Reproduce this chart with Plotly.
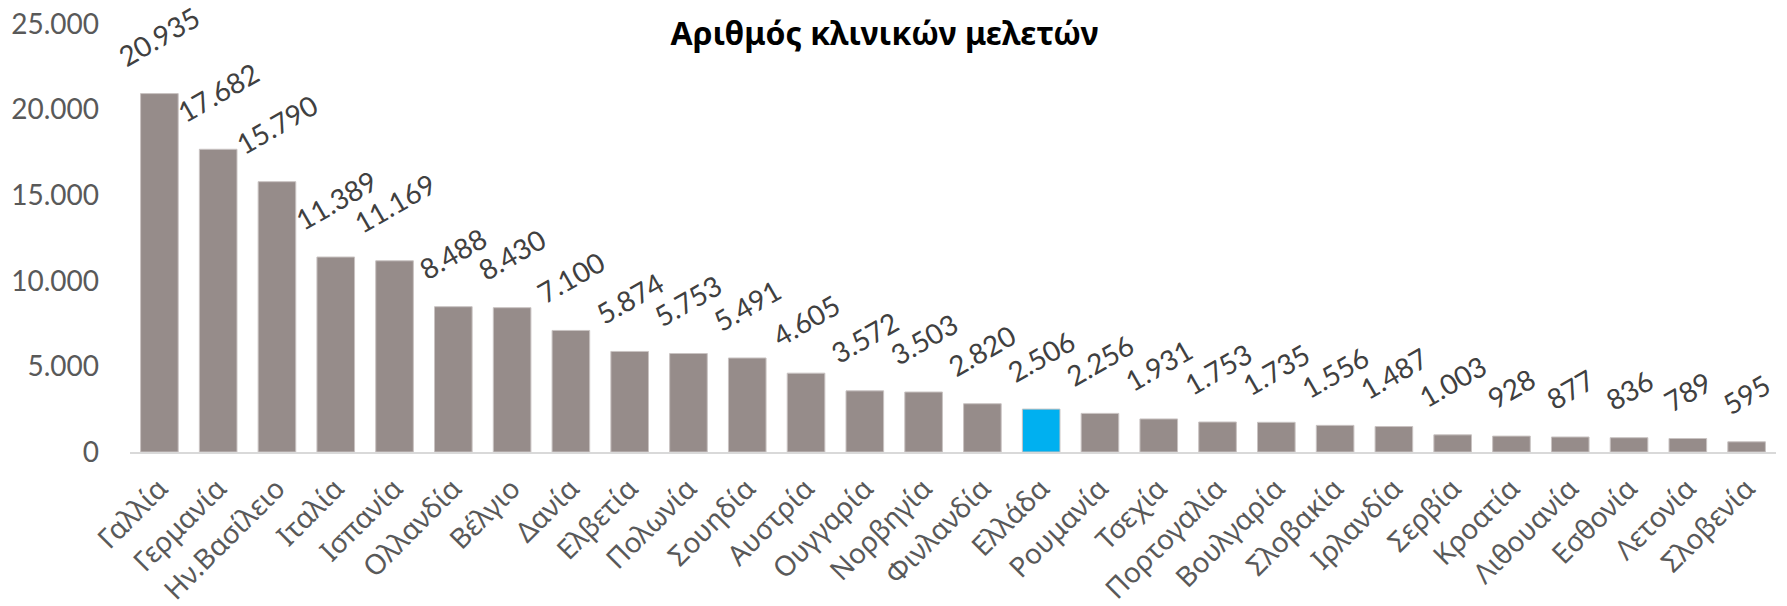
import plotly.graph_objects as go

countries = ["Γαλλία", "Γερμανία", "Ην.Βασίλειο", "Ιταλία", "Ισπανία", "Ολλανδία",
             "Βέλγιο", "Δανία", "Ελβετία", "Πολωνία", "Σουηδία", "Αυστρία",
             "Ουγγαρία", "Νορβηγία", "Φινλανδία", "Ελλάδα", "Ρουμανία", "Τσεχία",
             "Πορτογαλία", "Βουλγαρία", "Σλοβακία", "Ιρλανδία", "Σερβία", "Κροατία",
             "Λιθουανία", "Εσθονία", "Λετονία", "Σλοβενία"]
trials = [20935, 17682, 15790, 11389, 11169, 8488, 8430, 7100, 5874, 5753, 5491, 4605,
          3572, 3503, 2820, 2506, 2256, 1931, 1753, 1735, 1556, 1487, 1003, 928,
          877, 836, 789, 595]
highlight = "Ελλάδα"
y_ticks = [0, 5000, 10000, 15000, 20000, 25000]

GREY = "#968C8A"
BLUE = "#00B0F0"
num_font = "Lato, 'Noto Sans', sans-serif"

colors = [BLUE if c == highlight else GREY for c in countries]

fig = go.Figure()
fig.add_trace(go.Bar(x=countries, y=trials, marker_color=colors,
                     marker_line=dict(color="#C9C3C2", width=1), showlegend=False))

# rotated value labels above each bar
for c, v in zip(countries, trials):
    fig.add_annotation(x=c, y=v, text="{:,}".format(v).replace(",", "."),
                       showarrow=False, textangle=-30, xanchor="center", yanchor="bottom",
                       yshift=18, font=dict(family=num_font, size=28, color="#404040"))

fig.update_layout(
    width=1787, height=606,
    margin=dict(l=130, r=11, t=24, b=154),
    plot_bgcolor="white", paper_bgcolor="white",
    separators=",.",
    bargap=0.36,
    title=dict(text="<b>Αριθμός κλινικών μελετών</b>", x=0.495, xref="container",
               xanchor="center", y=1 - 34 / 606, yref="container", yanchor="middle",
               font=dict(family="'Noto Sans', sans-serif", size=32, color="black")),
    # fixed range: annotations would otherwise widen the category autorange
    xaxis=dict(range=[-0.5, len(countries) - 0.5], tickangle=-45, showgrid=False,
               showline=True, linecolor="#D9D9D9", linewidth=2, automargin=False,
               ticklabelstandoff=7,
               tickfont=dict(family="'Noto Sans', sans-serif", size=28, color="#595959")),
    yaxis=dict(range=[0, 25000], tickvals=y_ticks, tickformat=",", showgrid=False,
               showline=False, zeroline=False, ticklabelstandoff=30, automargin=False,
               tickfont=dict(family=num_font, size=28, color="#595959")),
)

fig.write_html("out.html", config={"displayModeBar": False},
               post_script="document.body.style.margin='0';")
